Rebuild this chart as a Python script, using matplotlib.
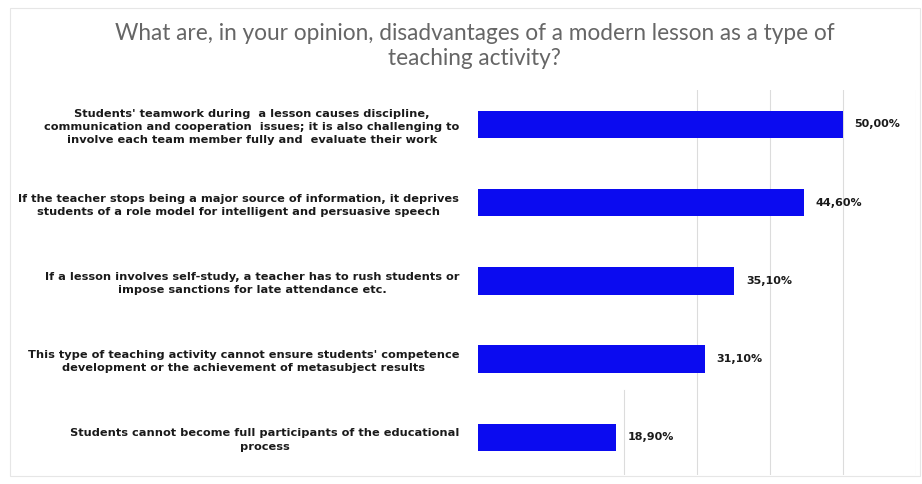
import matplotlib.pyplot as plt
from matplotlib.patches import Rectangle

# dados
categorias = [
    "Students' teamwork during  a lesson causes discipline,\ncommunication and cooperation  issues; it is also challenging to\ninvolve each team member fully and  evaluate their work",
    "If the teacher stops being a major source of information, it deprives\nstudents of a role model for intelligent and persuasive speech",
    "If a lesson involves self-study, a teacher has to rush students or\nimpose sanctions for late attendance etc.",
    "This type of teaching activity cannot ensure students' competence\ndevelopment or the achievement of metasubject results",
    "Students cannot become full participants of the educational\nprocess",
]
valores = [50.0, 44.6, 35.1, 31.1, 18.9]
rotulos = ['50,00%', '44,60%', '35,10%', '31,10%', '18,90%']
titulo = 'What are, in your opinion, disadvantages of a modern lesson as a type of\nteaching activity?'

fig = plt.figure(figsize=(9.22, 4.84), dpi=100)
fig.patches.append(Rectangle((10 / 922, 8 / 484), 910 / 922, 468 / 484, transform=fig.transFigure,
                             fill=False, edgecolor='#e6e6e6', linewidth=0.8))

ax = fig.add_axes([478 / 922, 9 / 484, 438 / 922, 385 / 484])
y = list(range(len(valores)))
ax.barh(y, valores, height=0.35, color='#0b0bf0', zorder=2)

ax.set_xlim(0, 60)
ax.set_ylim(4.48, -0.44)

# linhas de grade
for gx in [30, 40, 50, 60]:
    ax.axvline(gx, color='#dcdcdc', linewidth=0.8, zorder=0)
ax.axvline(20, ymin=0, ymax=0.22, color='#dcdcdc', linewidth=0.8, zorder=0)

ax.set_xticks([])
ax.tick_params(axis='y', left=False, pad=10)
for s in ax.spines.values():
    s.set_visible(False)

ax.set_yticks(y)
ax.set_yticklabels(categorias, fontsize=8.2, fontweight='bold', family='DejaVu Sans',
                   multialignment='center', color='#1a1a1a', linespacing=1.4)

for yi, v, r in zip(y, valores, rotulos):
    ax.text(v + 1.6, yi, r, va='center', ha='left', fontsize=8, fontweight='bold',
            family='DejaVu Sans', color='#1a1a1a')

fig.text(0.515, 0.905, titulo, ha='center', va='center', fontsize=16.3, color='#666666',
         family='Lato', linespacing=1.2)

fig.savefig('out.png', dpi=100)
